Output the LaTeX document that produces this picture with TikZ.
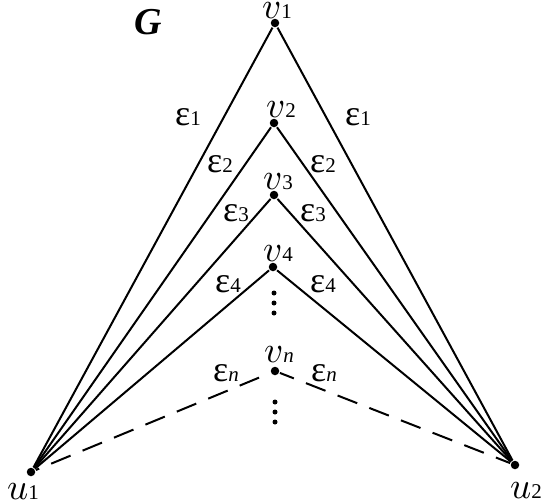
\documentclass[tikz,border=0pt]{standalone}
\usepackage{fontspec}
\setmainfont{Liberation Serif}
\newcommand{\lowtxt}[1]{{\fontsize{21}{21}\selectfont #1}}
\newcommand{\bigmath}[1]{\scalebox{3.7}{\normalsize$#1$}}
\newcommand{\vname}[1]{\bigmath{v}\lowtxt{#1}}
\newcommand{\uname}[1]{\bigmath{u}\lowtxt{#1}}
\newcommand{\ename}[1]{ε\lowtxt{#1}}
\begin{document}
\begin{tikzpicture}[x=1pt,y=-1pt,line width=2pt,
    dot/.style={circle,fill,inner sep=0pt,minimum size=8.5pt},
    vlab/.style={font=\fontsize{34}{35}\selectfont,inner sep=0pt,anchor=base},
    elab/.style={font=\fontsize{36}{37}\selectfont,inner sep=0pt,anchor=base},
    gap line/.style={dash pattern=on 21pt off 13pt}]
    \useasboundingbox (0,0) rectangle (545,501);

    \node [dot](v1) at (275,23){};
    \node [dot](v2) at (274,123){};
    \node [dot](v3) at (274,195){};
    \node [dot](v4) at (273,267){};
    \node [dot](vn) at (275,371){};
    \node [dot](u1) at (31,472){};
    \node [dot](u2) at (515,465){};

    \node [vlab](lv1) at (277,18){\vname{1}};
    \node [vlab](lv2) at (281,117){\vname{2}};
    \node [vlab](lv3) at (278,189){\vname{3}};
    \node [vlab](lv4) at (278,261){\vname{4}};
    \node [vlab](lvn) at (279,362){\vname{\textit{n}}};
    \node [vlab](lu1) at (23,499){\uname{1}};
    \node [vlab](lu2) at (526,498){\uname{2}};

    \node [elab](e1l) at (188,125){\ename{1}};
    \node [elab](e1r) at (358,125){\ename{1}};
    \node [elab](e2l) at (220,172){\ename{2}};
    \node [elab](e2r) at (323,172){\ename{2}};
    \node [elab](e3l) at (236,221){\ename{3}};
    \node [elab](e3r) at (313,221){\ename{3}};
    \node [elab](e4l) at (228,292){\ename{4}};
    \node [elab](e4r) at (323,292){\ename{4}};
    \node [elab](enl) at (226,381){\ename{\textit{n}}};
    \node [elab](enr) at (324,381){\ename{\textit{n}}};

    \node [font=\fontsize{38}{39}\selectfont\bfseries\itshape](G) at (148,22){G};

    \node [dot, minimum size=5pt](d1) at (274,293){};
    \node [dot, minimum size=5pt](d2) at (274,303){};
    \node [dot, minimum size=5pt](d3) at (274,313){};
    \node [dot, minimum size=5pt](d4) at (275,402){};
    \node [dot, minimum size=5pt](d5) at (275,412){};
    \node [dot, minimum size=5pt](d6) at (275,422){};

    \path
        (u1) edge (v1)
        (u1) edge (v2)
        (u1) edge (v3)
        (u1) edge (v4)
        (u2) edge (v1)
        (u2) edge (v2)
        (u2) edge (v3)
        (u2) edge (v4)
        (vn) edge[gap line, dash phase=22] (u1)
        (vn) edge[gap line, dash phase=6] (u2)
        ;
\end{tikzpicture}
\end{document}
